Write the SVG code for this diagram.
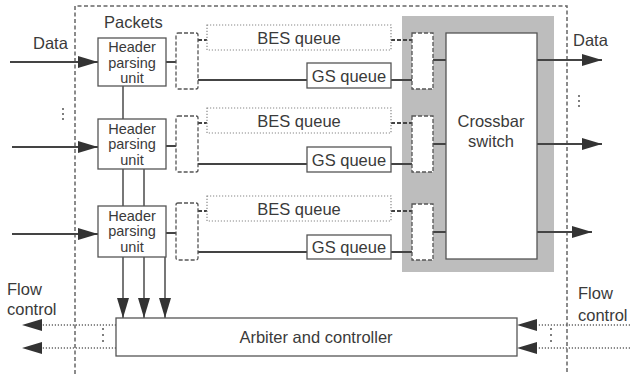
<svg xmlns="http://www.w3.org/2000/svg" width="630" height="374" viewBox="0 0 630 374">
<style>
text{font-family:"Liberation Sans",Arial,sans-serif;font-size:16.5px;fill:#3a3a3a}
.c{text-anchor:middle}
.h{font-size:14.5px}
.box{fill:#fff;stroke:#555;stroke-width:1.3}
.demux{fill:#fff;stroke:#555;stroke-width:1.3;stroke-dasharray:4 2}
.bes{fill:#fff;stroke:#888;stroke-width:1.2;stroke-dasharray:1.2 1.8}
.ln{stroke:#444;stroke-width:2;fill:none}
.gl{stroke:#777;stroke-width:2;fill:none}
.dl{stroke:#444;stroke-width:2;fill:none;stroke-dasharray:4 2}
.dot{stroke:#666;stroke-width:1.3;fill:none;stroke-dasharray:1.2 1.8}
.frame{stroke:#666;stroke-width:1.5;fill:none;stroke-dasharray:4 2.5}
</style>
<defs>
<marker id="ah" markerWidth="20" markerHeight="12" refX="20" refY="6" orient="auto" markerUnits="userSpaceOnUse">
<path d="M0,0 L20,6 L0,12 Z" fill="#333"/>
</marker>
</defs>
<rect id="switchbg" x="402" y="16" width="152" height="256" fill="#bdbdbd"/>
<path class="frame" d="M75,374 V6 H567 V374"/>
<g id="connectors">
<line class="ln" x1="10" y1="62" x2="98" y2="62" marker-end="url(#ah)"/>
<line class="ln" x1="12" y1="147" x2="98" y2="147" marker-end="url(#ah)"/>
<line class="ln" x1="12" y1="234" x2="98" y2="234" marker-end="url(#ah)"/>
<line class="gl" x1="123" y1="86" x2="123" y2="119"/>
<line class="gl" x1="123" y1="169" x2="123" y2="206"/>
<line class="gl" x1="144" y1="169" x2="144" y2="206"/>
<line class="gl" x1="123" y1="257" x2="123" y2="318" marker-end="url(#ah)"/>
<line class="gl" x1="144" y1="257" x2="144" y2="318" marker-end="url(#ah)"/>
<line class="gl" x1="165" y1="257" x2="165" y2="318" marker-end="url(#ah)"/>
<line class="ln" x1="166" y1="62" x2="176" y2="62"/>
<line class="ln" x1="166" y1="146" x2="176" y2="146"/>
<line class="ln" x1="166" y1="233" x2="176" y2="233"/>
<path class="dl" d="M198,40 H207"/>
<path class="dl" d="M198,123 H207"/>
<path class="dl" d="M198,211 H207"/>
<line class="ln" x1="198" y1="80" x2="307" y2="80"/>
<line class="ln" x1="198" y1="164" x2="307" y2="164"/>
<line class="ln" x1="198" y1="252" x2="307" y2="252"/>
<path class="dl" d="M391,40 H412"/>
<path class="dl" d="M391,123 H412"/>
<path class="dl" d="M391,211 H412"/>
<line class="ln" x1="391" y1="80" x2="412" y2="80"/>
<line class="ln" x1="391" y1="164" x2="412" y2="164"/>
<line class="ln" x1="391" y1="252" x2="412" y2="252"/>
<line class="ln" x1="433" y1="60" x2="446" y2="60"/>
<line class="ln" x1="433" y1="144" x2="446" y2="144"/>
<line class="ln" x1="433" y1="232" x2="446" y2="232"/>
<line class="ln" x1="537" y1="60" x2="602" y2="60" marker-end="url(#ah)"/>
<line class="ln" x1="537" y1="144" x2="602" y2="144" marker-end="url(#ah)"/>
<line class="ln" x1="537" y1="232" x2="592" y2="232" marker-end="url(#ah)"/>
<line class="dot" x1="116" y1="325" x2="40" y2="325"/>
<line class="dot" x1="116" y1="348" x2="40" y2="348"/>
<path d="M22,325 L42,319 L42,331 Z M22,348 L42,342 L42,354 Z" fill="#333"/>
<line class="dot" x1="630" y1="325" x2="535" y2="325"/>
<line class="dot" x1="630" y1="348" x2="535" y2="348"/>
<path d="M517,325 L537,319 L537,331 Z M517,348 L537,342 L537,354 Z" fill="#333"/>
</g>
<g id="dots" fill="#555">
<circle cx="63" cy="109" r="1"/><circle cx="63" cy="114" r="1"/><circle cx="63" cy="119" r="1"/>
<circle cx="579" cy="96" r="1"/><circle cx="579" cy="101" r="1"/><circle cx="579" cy="106" r="1"/>
<circle cx="103" cy="329" r="1"/><circle cx="103" cy="335" r="1"/><circle cx="103" cy="341" r="1"/>
<circle cx="551" cy="329" r="1"/><circle cx="551" cy="335" r="1"/><circle cx="551" cy="341" r="1"/>
</g>
<g id="labels">
<text x="33" y="49">Data</text>
<text x="104" y="28">Packets</text>
<text x="573" y="46">Data</text>
<text x="7" y="295">Flow</text>
<text x="7" y="315">control</text>
<text x="578" y="299">Flow</text>
<text x="578" y="321">control</text>
</g>
<g id="hpu1"><rect class="box" x="98" y="38" width="68" height="48"/>
<text class="c h" x="132" y="52">Header</text><text class="c h" x="132" y="67.5">parsing</text><text class="c h" x="132" y="83">unit</text></g>
<g id="hpu2"><rect class="box" x="98" y="119" width="68" height="50"/>
<text class="c h" x="132" y="133.5">Header</text><text class="c h" x="132" y="149">parsing</text><text class="c h" x="132" y="164.5">unit</text></g>
<g id="hpu3"><rect class="box" x="98" y="206" width="68" height="51"/>
<text class="c h" x="132" y="220.5">Header</text><text class="c h" x="132" y="236">parsing</text><text class="c h" x="132" y="251.5">unit</text></g>
<g id="demux1"><rect class="demux" x="176" y="33" width="22" height="56" rx="2"/></g>
<g id="demux2"><rect class="demux" x="176" y="116" width="22" height="56" rx="2"/></g>
<g id="demux3"><rect class="demux" x="176" y="203" width="22" height="57" rx="2"/></g>
<g id="bes1"><rect class="bes" x="207" y="25" width="184" height="25"/><text class="c" x="299" y="44">BES queue</text></g>
<g id="bes2"><rect class="bes" x="207" y="108" width="184" height="25"/><text class="c" x="299" y="127">BES queue</text></g>
<g id="bes3"><rect class="bes" x="207" y="196" width="184" height="25"/><text class="c" x="299" y="215">BES queue</text></g>
<g id="gs1"><rect class="box" x="307" y="63" width="84" height="25"/><text class="c" x="349" y="82">GS queue</text></g>
<g id="gs2"><rect class="box" x="307" y="147" width="84" height="25"/><text class="c" x="349" y="166">GS queue</text></g>
<g id="gs3"><rect class="box" x="307" y="235" width="84" height="24"/><text class="c" x="349" y="253">GS queue</text></g>
<g id="mux1"><rect class="demux" x="412" y="33" width="21" height="56"/></g>
<g id="mux2"><rect class="demux" x="412" y="116" width="21" height="56"/></g>
<g id="mux3"><rect class="demux" x="412" y="204" width="21" height="56"/></g>
<g id="crossbar"><rect class="box" x="446" y="33" width="91" height="226"/>
<text class="c" x="491" y="127">Crossbar</text><text class="c" x="491" y="147">switch</text></g>
<g id="arbiter"><rect class="box" x="116" y="318" width="401" height="38"/>
<text class="c" x="316" y="343">Arbiter and controller</text></g>
</svg>
